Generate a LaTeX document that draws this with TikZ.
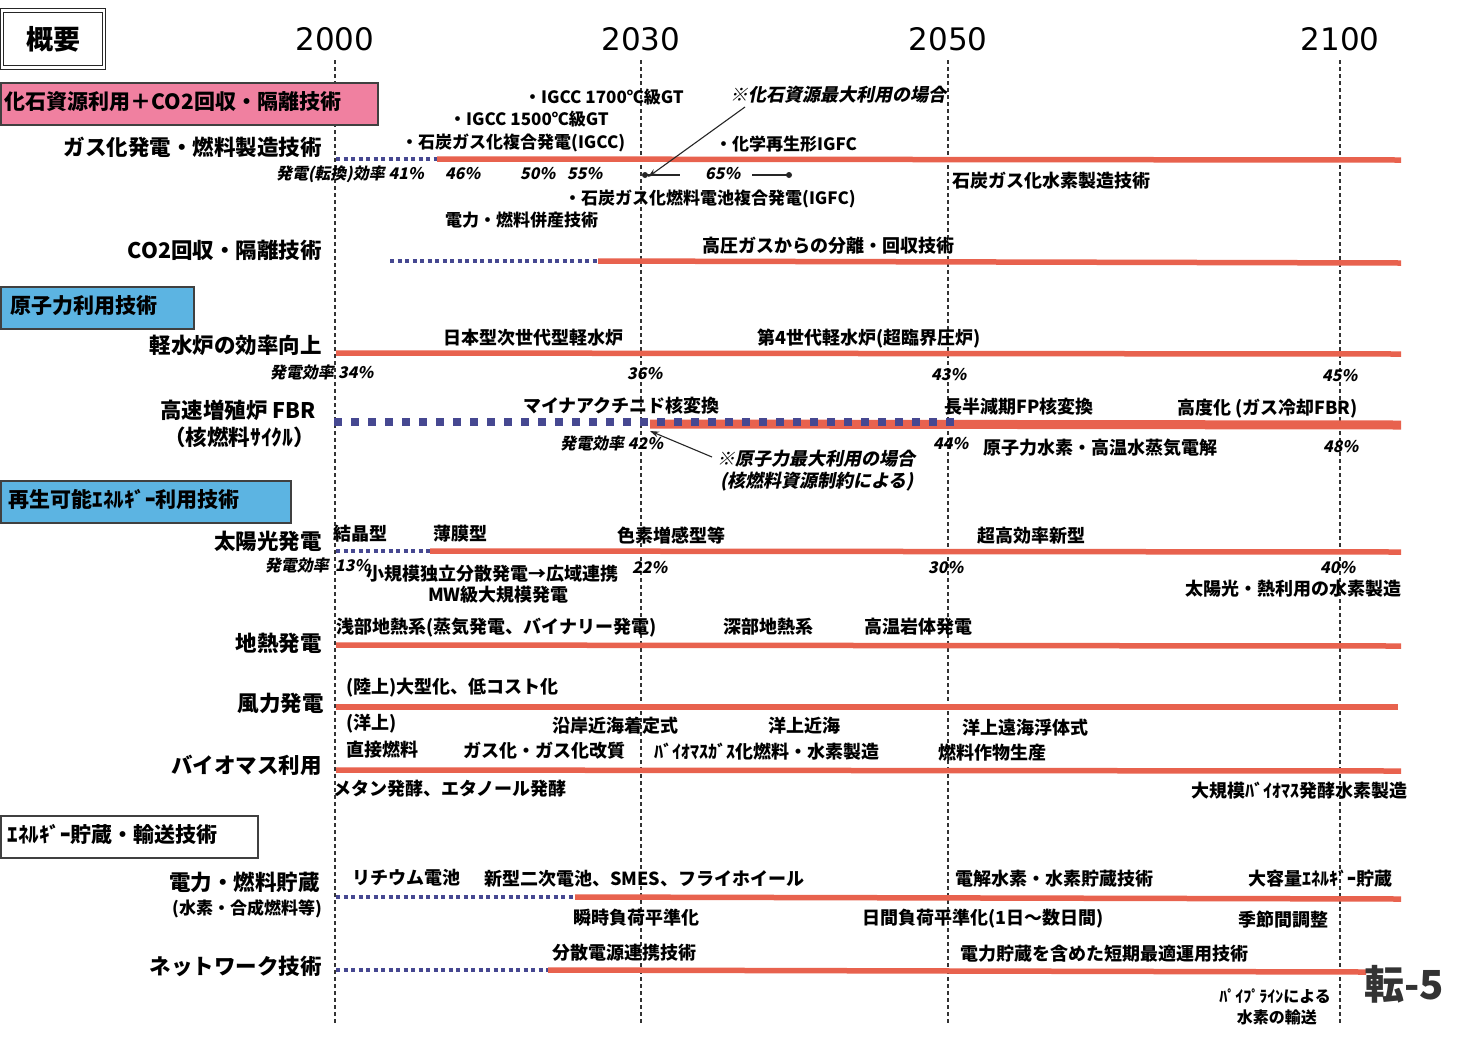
\documentclass[tikz,border=0pt]{standalone}
\usepackage{fontspec}
\newfontfamily\jp{Noto Sans CJK JP}
\newfontfamily\jpit{Noto Sans CJK JP}[FakeSlant=0.2]
\newfontfamily\yr{DejaVu Sans}
\usetikzlibrary{arrows.meta}
\definecolor{barred}{RGB}{232,98,78}
\definecolor{dotblue}{RGB}{70,72,145}
\definecolor{pinkh}{RGB}{240,128,160}
\definecolor{blueh}{RGB}{92,180,226}
\tikzset{
  lbl/.style={font=\jp\bfseries\fontsize{18}{18}\selectfont, inner sep=0pt, anchor=west, text height=1.5em, text depth=0.1em},
  sml/.style={font=\jp\bfseries\fontsize{16}{16}\selectfont, inner sep=0pt, text height=1.5em, text depth=0.1em},
  rowlbl/.style={font=\jp\bfseries\fontsize{21.5}{21.5}\selectfont, inner sep=0pt, anchor=east, text height=1.45em, text depth=0.1em},
  pct/.style={font=\jpit\bfseries\fontsize{16}{16}\selectfont, inner sep=0pt, anchor=west, text height=1.2em, text depth=0.08em},
  pctr/.style={pct, anchor=east},
  hdr/.style={font=\jp\bfseries\fontsize{21}{21}\selectfont, draw=black!75, line width=1.6pt, inner xsep=4pt, inner ysep=0pt, minimum height=42pt, anchor=north west, align=left, text height=1.3em, text depth=0.12em},
  year/.style={font=\yr\fontsize{31}{31}\selectfont, inner sep=0pt},
  vline/.style={draw=black!80, line width=1.1pt, dash pattern=on 4pt off 3pt},
  redbar/.style={draw=barred, line width=5.5pt},
  dotbar/.style={draw=dotblue, line width=4pt, dash pattern=on 4pt off 3.5pt},
  bigdot/.style={draw=dotblue, line width=8pt, dash pattern=on 8pt off 9pt},
  note/.style={draw=black!85, line width=1.1pt, -{Stealth[length=9pt,width=6pt]}},
}
\begin{document}
\begin{tikzpicture}[x=1pt,y=-1pt]
\fill[white] (0,0) rectangle (1479,1045);
\useasboundingbox (0,0) rectangle (1479,1045);

% year axis
\foreach \n/\x/\t in {a/335/2000,b/641/2030,c/948/2050,d/1340/2100}{
  \node[year] (y\n) at (\x,39) {\t};
  \coordinate (vt\n) at (\x,60);
  \coordinate (vb\n) at (\x,1025);
  \draw[vline] (vt\n) -- (vb\n);
}

% headers
\node[draw=black!85, line width=1.2pt, double, double distance=2.5pt, minimum width=102pt, minimum height=57pt,
      font=\jp\bfseries\fontsize{27}{27}\selectfont] (gaiyo) at (53,39) {概要};
\node[hdr, fill=pinkh, text width=369pt] (h1) at (0,82) {化石資源利用＋CO2回収・隔離技術};
\node[hdr, fill=blueh, text width=185pt] (h2) at (0,286) {\hspace{6pt}原子力利用技術};
\node[hdr, fill=blueh, text width=282pt] (h3) at (0,480) {\hspace{4pt}再生可能ｴﾈﾙｷﾞｰ利用技術};
\node[hdr, fill=white, text width=249pt] (h4) at (0,815) {\hspace{3pt}ｴﾈﾙｷﾞｰ貯蔵・輸送技術};

% row labels
\node[rowlbl] (r1) at (322,149) {ガス化発電・燃料製造技術};
\node[rowlbl] (r2) at (322,252) {CO2回収・隔離技術};
\node[rowlbl] (r3) at (322,347) {軽水炉の効率向上};
\node[rowlbl] (r4) at (316,412) {高速増殖炉 FBR};
\node[rowlbl] (r4b) at (315,439) {（核燃料ｻｲｸﾙ）};
\node[rowlbl] (r5) at (322,543) {太陽光発電};
\node[rowlbl] (r6) at (322,645) {地熱発電};
\node[rowlbl] (r7) at (324,705) {風力発電};
\node[rowlbl] (r8) at (322,767) {バイオマス利用};
\node[rowlbl] (r9) at (320,884) {電力・燃料貯蔵};
\node[rowlbl, font=\jp\bfseries\fontsize{17}{17}\selectfont] (r9b) at (322,908) {(水素・合成燃料等)};
\node[rowlbl] (r10) at (322,968) {ネットワーク技術};

% bars
\coordinate (b1s) at (336,159); \coordinate (b1m) at (437,159); \coordinate (b1e) at (1401,160);
\draw[dotbar] (b1s) -- (b1m); \draw[redbar] (b1m) -- (b1e);
\coordinate (b2s) at (390,261); \coordinate (b2m) at (598,261); \coordinate (b2e) at (1401,263);
\draw[dotbar] (b2s) -- (b2m); \draw[redbar] (b2m) -- (b2e);
\coordinate (b3s) at (336,353); \coordinate (b3e) at (1401,354);
\draw[redbar] (b3s) -- (b3e);
\coordinate (b4s) at (334,422); \coordinate (b4m) at (650,424); \coordinate (b4f) at (955,422); \coordinate (b4e) at (1401,425);
\draw[draw=barred, line width=9pt] (b4m) -- (b4e);
\draw[bigdot] (b4s) -- (b4f);
\coordinate (b5s) at (336,551); \coordinate (b5m) at (430,551); \coordinate (b5e) at (1401,552);
\draw[dotbar] (b5s) -- (b5m); \draw[redbar] (b5m) -- (b5e);
\coordinate (b6s) at (336,645); \coordinate (b6e) at (1401,646);
\draw[redbar] (b6s) -- (b6e);
\coordinate (b7s) at (336,707); \coordinate (b7e) at (1398,707);
\draw[redbar] (b7s) -- (b7e);
\coordinate (b8s) at (336,770); \coordinate (b8e) at (1401,771);
\draw[redbar] (b8s) -- (b8e);
\coordinate (b9s) at (336,897); \coordinate (b9m) at (575,897); \coordinate (b9e) at (1401,899);
\draw[dotbar] (b9s) -- (b9m); \draw[redbar] (b9m) -- (b9e);
\coordinate (b10s) at (336,970); \coordinate (b10m) at (548,970); \coordinate (b10e) at (1366,972);
\draw[dotbar] (b10s) -- (b10m); \draw[redbar] (b10m) -- (b10e);

% ---- fossil section
\node[lbl, font=\jp\bfseries\fontsize{17}{17}\selectfont] (t1) at (524,96) {・IGCC 1700℃級GT};
\node[lbl, font=\jp\bfseries\fontsize{17}{17}\selectfont] (t2) at (449,118) {・IGCC 1500℃級GT};
\node[lbl, font=\jp\bfseries\fontsize{17}{17}\selectfont] (t3) at (401,141) {・石炭ガス化複合発電(IGCC)};
\node[pct, font=\jpit\bfseries\fontsize{18}{18}\selectfont] (n1) at (730,96) {※化石資源最大利用の場合};
\node[lbl, font=\jp\bfseries\fontsize{17}{17}\selectfont] (t4) at (715,143) {・化学再生形IGFC};
\node[pctr] (p41) at (424,174) {発電(転換)効率 41\%};
\node[pct] (p46) at (445,174) {46\%};
\node[pct] (p50) at (520,174) {50\%};
\node[pct] (p55) at (567,174) {55\%};
\node[pct] (p65) at (705,174) {65\%};
\coordinate (d1) at (645,175);
\coordinate (d1e) at (680,175);
\coordinate (d2s) at (752,175);
\coordinate (d2) at (789,175);
\fill[black!85] (d1) circle (3pt) (d2) circle (3pt);
\draw[black!85, line width=1.2pt] (d1) -- (d1e) (d2s) -- (d2);
\coordinate (n1a) at (745,107);
\draw[note] (n1a) -- ([xshift=3pt,yshift=-2pt]d1);
\node[lbl, font=\jp\bfseries\fontsize{17}{17}\selectfont] (t5) at (564,197) {・石炭ガス化燃料電池複合発電(IGFC)};
\node[lbl, font=\jp\bfseries\fontsize{17}{17}\selectfont] (t6) at (445,219) {電力・燃料併産技術};
\node[lbl] (t7) at (952,180) {石炭ガス化水素製造技術};
\node[lbl] (t8) at (702,245) {高圧ガスからの分離・回収技術};

% ---- nuclear
\node[lbl] (u1) at (443,337) {日本型次世代型軽水炉};
\node[lbl] (u2) at (757,337) {第4世代軽水炉(超臨界圧炉)};
\node[pctr] (u3) at (334,373) {発電効率};
\node[pct] (u4) at (338,373) {34\%};
\node[pct] (u5) at (627,374) {36\%};
\node[pct] (u6) at (931,375) {43\%};
\node[pct] (u7) at (1322,376) {45\%};
\node[lbl] (u8) at (523,405) {マイナアクチニド核変換};
\node[lbl] (u9) at (944,406) {長半減期FP核変換};
\node[lbl] (u10) at (1177,407) {高度化 (ガス冷却FBR)};
\node[pct] (u11) at (560,444) {発電効率 42\%};
\node[pct] (u12) at (933,444) {44\%};
\node[lbl] (u13) at (983,447) {原子力水素・高温水蒸気電解};
\node[pct] (u14) at (1323,447) {48\%};
\node[pct, font=\jpit\bfseries\fontsize{18}{18}\selectfont] (u15) at (717,460) {※原子力最大利用の場合};
\node[pct, font=\jpit\bfseries\fontsize{18}{18}\selectfont] (u16) at (720,482) {(核燃料資源制約による)};
\coordinate (u15a) at (712,457);
\coordinate (u15t) at (650,431);
\draw[note] (u15a) -- (u15t);

% ---- renewables
\node[lbl] (s1) at (333,533) {結晶型};
\node[lbl] (s2) at (433,533) {薄膜型};
\node[lbl] (s3) at (617,535) {色素増感型等};
\node[lbl] (s4) at (977,535) {超高効率新型};
\node[pctr] (s5) at (329,566) {発電効率};
\node[pct] (s6) at (335,566) {13\%};
\node[lbl] (s7) at (366,573) {小規模独立分散発電→広域連携};
\node[pct] (s8) at (632,568) {22\%};
\node[lbl] (s9) at (428,594) {MW級大規模発電};
\node[pct] (s10) at (928,568) {30\%};
\node[pct] (s11) at (1320,568) {40\%};
\node[lbl, anchor=east] (s12) at (1402,588) {太陽光・熱利用の水素製造};
\node[lbl] (g1) at (336,626) {浅部地熱系(蒸気発電、バイナリー発電)};
\node[lbl] (g2) at (723,626) {深部地熱系};
\node[lbl] (g3) at (864,626) {高温岩体発電};
\node[lbl] (w1) at (346,686) {(陸上)大型化、低コスト化};
\node[lbl] (w2) at (346,722) {(洋上)};
\node[lbl] (w3) at (552,725) {沿岸近海着定式};
\node[lbl] (w4) at (768,725) {洋上近海};
\node[lbl] (w5) at (962,727) {洋上遠海浮体式};
\node[lbl] (m1) at (346,749) {直接燃料};
\node[lbl] (m2) at (463,750) {ガス化・ガス化改質};
\node[lbl] (m3) at (654,751) {ﾊﾞｲｵﾏｽｶﾞｽ化燃料・水素製造};
\node[lbl] (m4) at (938,752) {燃料作物生産};
\node[lbl] (m5) at (333,788) {メタン発酵、エタノール発酵};
\node[lbl, anchor=east] (m6) at (1408,790) {大規模ﾊﾞｲｵﾏｽ発酵水素製造};

% ---- storage
\node[lbl] (e1) at (352,877) {リチウム電池};
\node[lbl] (e2) at (484,878) {新型二次電池、SMES、フライホイール};
\node[lbl] (e3) at (955,878) {電解水素・水素貯蔵技術};
\node[lbl, anchor=east] (e4) at (1393,878) {大容量ｴﾈﾙｷﾞｰ貯蔵};
\node[lbl] (e5) at (573,917) {瞬時負荷平準化};
\node[lbl] (e6) at (862,917) {日間負荷平準化(1日～数日間)};
\node[lbl] (e7) at (1238,919) {季節間調整};
\node[lbl] (e8) at (552,952) {分散電源連携技術};
\node[lbl] (e9) at (960,953) {電力貯蔵を含めた短期最適運用技術};
\node[sml, anchor=east] (e10) at (1331,995) {ﾊﾟｲﾌﾟﾗｲﾝによる};
\node[sml, anchor=east] (e11) at (1317,1016) {水素の輸送};
\node[font=\jp\bfseries\fontsize{40}{40}\selectfont, inner sep=0pt, anchor=west, text=black!80] (pg) at (1364,984) {転-5};
\end{tikzpicture}
\end{document}
